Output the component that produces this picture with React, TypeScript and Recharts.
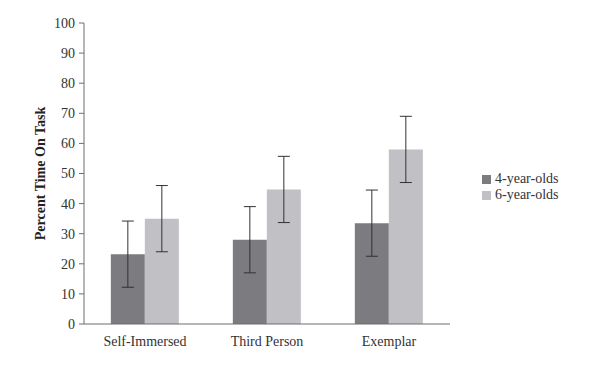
import React from 'react'
import { Bar, BarChart, ErrorBar, Legend, XAxis, YAxis } from 'recharts'

// Percent time on task by condition and age group
const conditions = ['Self-Immersed', 'Third Person', 'Exemplar']
const fourYearOlds = [23.2, 28, 33.5]
const sixYearOlds = [35, 44.7, 58]
const fourErr = [11, 11, 11]
const sixErr = [11, 11, 11]
const yTicks = [0, 10, 20, 30, 40, 50, 60, 70, 80, 90, 100]

const data = conditions.map((name, i) => ({
  name,
  four: fourYearOlds[i],
  six: sixYearOlds[i],
  fourErr: fourErr[i],
  sixErr: sixErr[i],
}))

const font = '"Liberation Serif", "DejaVu Serif", serif'
const axisColor = '#6e6e6e'

const App = () => {
  return (
    <div style={{ fontFamily: font }}>
      <BarChart
        width={592}
        height={354}
        data={data}
        margin={{ top: 15, right: 40, bottom: 8, left: 20 }}
        barCategoryGap="22%"
        barGap={0}
      >
        <XAxis
          dataKey="name"
          height={30}
          tickLine={false}
          stroke={axisColor}
          tick={{ fill: '#333', fontSize: 14, fontFamily: font }}
          tickMargin={6}
        />
        <YAxis
          width={56}
          domain={[0, 100]}
          ticks={yTicks}
          interval={0}
          stroke={axisColor}
          tickSize={5}
          tickMargin={4}
          tick={{ fill: '#333', fontSize: 14, fontFamily: font }}
          label={{
            value: 'Percent Time On Task',
            angle: -90,
            position: 'center',
            dx: -16,
            style: { fontWeight: 'bold', fontSize: 14, fill: '#222', fontFamily: font },
          }}
        />
        <Legend
          layout="vertical"
          align="right"
          verticalAlign="top"
          iconType="square"
          iconSize={9}
          wrapperStyle={{ left: 474, top: 163, width: 110, fontSize: 14, fontFamily: font, lineHeight: '16px' }}
          formatter={(v) => <span style={{ color: '#333' }}>{v}</span>}
        />
        <Bar dataKey="four" name="4-year-olds" fill="#7b7b80" isAnimationActive={false}>
          <ErrorBar dataKey="fourErr" width={6} stroke="#333" strokeWidth={1} />
        </Bar>
        <Bar dataKey="six" name="6-year-olds" fill="#c0c0c5" isAnimationActive={false}>
          <ErrorBar dataKey="sixErr" width={6} stroke="#333" strokeWidth={1} />
        </Bar>
      </BarChart>
    </div>
  )
}

export default App
